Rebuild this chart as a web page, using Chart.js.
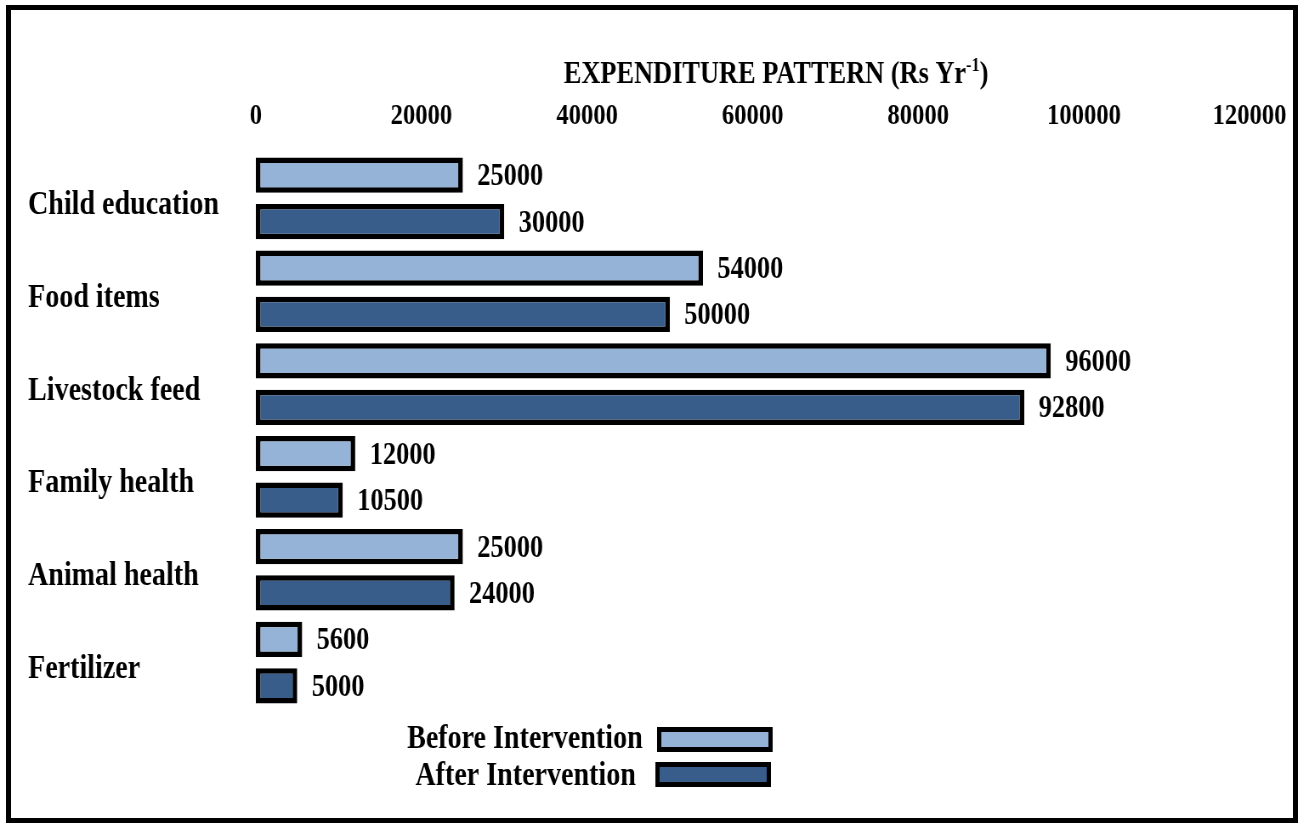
<!DOCTYPE html>
<html>
<head>
<meta charset="utf-8">
<script src="https://cdn.jsdelivr.net/npm/chart.js@4.4.1/dist/chart.umd.min.js"></script>
<style>
  html, body { margin: 0; padding: 0; background: #fff; overflow: hidden; width: 1299px; height: 825px; }
  #wrap { position: absolute; left: 0; top: 0; width: 1528px; height: 825px; transform: scaleX(0.85); transform-origin: 0 0; }
  #frame { position: absolute; left: 6px; top: 5px; width: 1292px; height: 818px; box-sizing: border-box; border: 5px solid #000; pointer-events: none; }
</style>
</head>
<body>
<div id="wrap"><canvas id="c"></canvas></div>
<div id="frame"></div>
<script>
const categories = ['Child education', 'Food items', 'Livestock feed', 'Family health', 'Animal health', 'Fertilizer'];
const beforeValues = [25000, 54000, 96000, 12000, 25000, 5600];
const afterValues = [30000, 50000, 92800, 10500, 24000, 5000];
const tickValues = [0, 20000, 40000, 60000, 80000, 100000, 120000];
const seriesNames = ['Before Intervention', 'After Intervention'];
const axisTitle = 'EXPENDITURE PATTERN (Rs Yr';
const axisTitleSup = '-1';

const FONT = '"Liberation Serif", "Times New Roman", serif';
const LIGHT = '#95B3D7';
const DARK = '#385D8A';

const valueLabels = {
  id: 'valueLabels',
  afterDatasetsDraw(chart) {
    const ctx = chart.ctx;
    ctx.save();
    ctx.font = 'bold 31px ' + FONT;
    ctx.fillStyle = '#000';
    ctx.textAlign = 'left';
    ctx.textBaseline = 'middle';
    chart.data.datasets.forEach((ds, di) => {
      const meta = chart.getDatasetMeta(di);
      meta.data.forEach((el, i) => {
        ctx.fillText(String(ds.data[i]), el.x + 17, el.y + 2);
      });
    });
    ctx.restore();
  }
};

const topTitle = {
  id: 'topTitle',
  afterDraw(chart) {
    const ctx = chart.ctx;
    ctx.save();
    ctx.fillStyle = '#000';
    ctx.textBaseline = 'alphabetic';
    const big = 'bold 31px ' + FONT;
    const small = 'bold 19px ' + FONT;
    ctx.font = big;
    const w1 = ctx.measureText(axisTitle).width;
    const w3 = ctx.measureText(')').width;
    ctx.font = small;
    const w2 = ctx.measureText(axisTitleSup).width;
    const total = w1 + w2 + w3;
    const cx = 913;
    let x = cx - total / 2;
    const base = 83;
    ctx.textAlign = 'left';
    ctx.font = big;
    ctx.fillText(axisTitle, x, base);
    x += w1;
    ctx.font = small;
    ctx.fillText(axisTitleSup, x, base - 12);
    x += w2;
    ctx.font = big;
    ctx.fillText(')', x, base);
    ctx.restore();
  }
};

const sideLegend = {
  id: 'sideLegend',
  afterDraw(chart) {
    const ctx = chart.ctx;
    ctx.save();
    const items = [
      { textRight: 756, textY: 739, boxX: 773, boxY: 727 },
      { textRight: 748, textY: 776, boxX: 771, boxY: 762 }
    ];
    chart.data.datasets.forEach((ds, i) => {
      const it = items[i];
      ctx.font = 'bold 33px ' + FONT;
      ctx.fillStyle = '#000';
      ctx.textAlign = 'right';
      ctx.textBaseline = 'middle';
      ctx.fillText(ds.label, it.textRight, it.textY);
      const bw = 136, bh = 25, lw = 5;
      ctx.fillStyle = '#000';
      ctx.fillRect(it.boxX, it.boxY, bw, bh);
      ctx.fillStyle = ds.backgroundColor;
      ctx.fillRect(it.boxX + lw, it.boxY + lw, bw - 2 * lw, bh - 2 * lw);
    });
    ctx.restore();
  }
};

new Chart(document.getElementById('c'), {
  type: 'bar',
  data: {
    labels: categories,
    datasets: [
      { label: seriesNames[0], data: beforeValues, backgroundColor: LIGHT, borderColor: '#000', borderWidth: 5.5, borderSkipped: false, barPercentage: 0.76, categoryPercentage: 1.0 },
      { label: seriesNames[1], data: afterValues, backgroundColor: DARK, borderColor: '#000', borderWidth: 5.5, borderSkipped: false, barPercentage: 0.76, categoryPercentage: 1.0 }
    ]
  },
  options: {
    indexAxis: 'y',
    responsive: true,
    maintainAspectRatio: false,
    animation: false,
    layout: { padding: { left: 33, right: 58, top: 0, bottom: 116 } },
    plugins: { legend: { display: false }, tooltip: { enabled: false }, title: { display: false } },
    scales: {
      x: {
        type: 'linear',
        position: 'top',
        min: 0,
        max: 120000,
        afterBuildTicks(scale) { scale.ticks = tickValues.map(v => ({ value: v })); },
        afterFit(scale) { scale.height = 152; },
        grid: { display: false },
        border: { display: false },
        ticks: { color: '#000', font: { family: FONT, size: 29, weight: 'bold' }, padding: 10, maxRotation: 0, autoSkip: false, callback: v => String(v) }
      },
      y: {
        type: 'category',
        afterFit(scale) { scale.width = 268; },
        grid: { display: false },
        border: { display: false },
        ticks: { color: '#000', crossAlign: 'far', labelOffset: 7, font: { family: FONT, size: 33, weight: 'bold' }, autoSkip: false }
      }
    }
  },
  plugins: [valueLabels, topTitle, sideLegend]
});
</script>
</body>
</html>
